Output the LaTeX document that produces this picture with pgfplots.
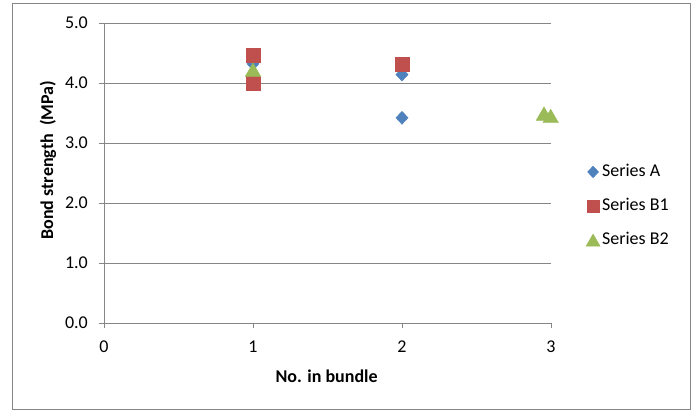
\documentclass[border=0pt]{standalone}
\usepackage{pgfplots}
\pgfplotsset{compat=1.18}
\usepackage{fontspec}
\setmainfont{Carlito}
\definecolor{sA}{HTML}{4F81BD}
\definecolor{sB}{HTML}{C0504D}
\definecolor{sC}{HTML}{9BBB59}
\definecolor{gr}{HTML}{868686}
\begin{document}
\fontsize{18bp}{22bp}\selectfont
\begin{tikzpicture}
\path[use as bounding box] (-104bp,-87bp) rectangle (589bp,323bp);
\draw[gr, line width=0.75bp] (-92bp,-86bp) rectangle (586bp,320bp);
\begin{axis}[
  at={(0,0)}, anchor=origin,
  scale only axis, width=447bp, height=300bp,
  xmin=0, xmax=3, ymin=0, ymax=5,
  xtick={0,1,2,3}, ytick={0,1,2,3,4,5},
  axis x line*=bottom, axis y line*=left,
  axis line style={gr, line width=0.75bp, -},
  ymajorgrids, grid style={gr, line width=0.75bp},
  tick align=outside, major tick length=5bp,
  tick style={gr, line width=0.75bp},
  /pgf/number format/assume math mode=true,
  yticklabel style={/pgf/number format/fixed, /pgf/number format/fixed zerofill, /pgf/number format/precision=1, anchor=east, inner sep=0pt, xshift=-11bp},
  xticklabel style={anchor=center, inner sep=0pt, yshift=-19bp},
  ticklabel style={font=\fontsize{18bp}{22bp}\selectfont},
  xlabel={\bfseries No. in bundle},
  ylabel={\bfseries Bond strength\ \ (MPa)},
  label style={font=\fontsize{18bp}{22bp}\selectfont},
  every axis x label/.style={at={(axis description cs:0.498,0)}, yshift=-53.7bp, anchor=center},
  every axis y label/.style={at={(axis description cs:0,0.543)}, xshift=-56bp, rotate=90, anchor=center},
  legend style={draw=none, fill=none, at={(1.078,0.39)}, anchor=west, font=\fontsize{18bp}{22bp}\selectfont, row sep=15bp, inner sep=0pt,
    nodes={inner xsep=2bp}},
  legend image post style={scale=0.9},
  legend cell align=left,
  clip=false,
]
\addplot[only marks, mark=diamond*, mark size=6.5bp, mark options={draw=sA, fill=sA, xscale=1.25}] coordinates {(1,4.32) (2,4.14) (2,3.42)};
\addlegendentry{Series A}
\addplot[only marks, mark=square*, mark size=7bp, mark options={draw=sB, fill=sB}] coordinates {(1,4.47) (1,4.0) (2,4.32)};
\addlegendentry{Series B1}
\addplot[only marks, mark=triangle*, mark size=9bp, mark options={draw=sC, fill=sC, yshift=-2.25bp}] coordinates {(1,4.22) (2.953,3.49) (2.998,3.45)};
\addlegendentry{Series B2}
\end{axis}
\end{tikzpicture}
\end{document}
